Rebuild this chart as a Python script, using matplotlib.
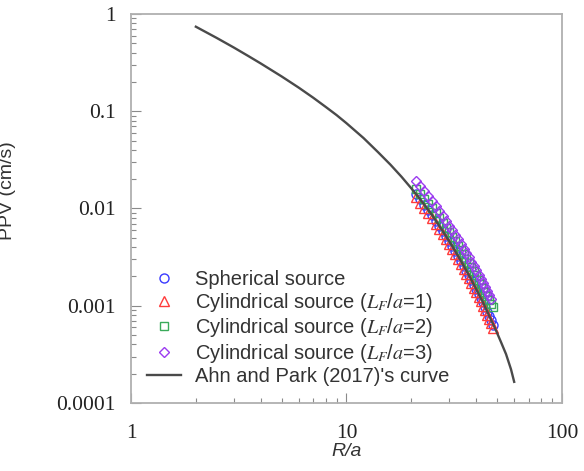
import numpy as np
import matplotlib
matplotlib.use("Agg")
import matplotlib.pyplot as plt
from matplotlib.ticker import LogLocator, NullFormatter, FixedLocator, FixedFormatter

plt.rcParams['mathtext.fontset'] = 'stix'

# Ahn and Park (2017)'s curve
curve_r = [2, 2.5, 3, 3.5, 4, 5, 6, 7, 8, 9, 10, 12, 14, 16, 18, 20, 22, 25,
           28, 31, 34, 37, 40, 43, 46, 49, 52, 55, 58, 60]
curve_ppv = [0.740, 0.567, 0.452, 0.370, 0.310, 0.228, 0.175, 0.138, 0.111,
             0.0912, 0.0753, 0.0530, 0.0380, 0.0282, 0.0212, 0.0161, 0.0124,
             0.00853, 0.00583, 0.00409, 0.00288, 0.00206, 0.00148, 0.00108,
             0.000783, 0.000581, 0.000428, 0.000318, 0.000222, 0.000165]

r_a = [21, 22, 23, 24, 25, 26, 27, 28, 29, 30, 31, 32, 33, 34, 35, 36, 37,
       38, 39, 40, 41, 42, 43, 44, 45, 46, 47, 48]

spherical = [0.0141, 0.0124, 0.0109, 0.00962, 0.00853, 0.00752, 0.00668,
             0.00583, 0.00516, 0.00459, 0.00409, 0.00363, 0.00323, 0.00288,
             0.00256, 0.00230, 0.00206, 0.00183, 0.00165, 0.00148, 0.00132,
             0.00119, 0.00108, 0.000966, 0.000871, 0.000783, 0.000708, 0.000640]
cyl_1 = [0.0131, 0.0115, 0.0101, 0.00895, 0.00793, 0.00699, 0.00621, 0.00542,
         0.00480, 0.00427, 0.00380, 0.00338, 0.00300, 0.00268, 0.00238,
         0.00214, 0.00192, 0.00170, 0.00153, 0.00138, 0.00123, 0.00111,
         0.00100, 0.000898, 0.000810, 0.000728, 0.000658, 0.000595]
cyl_2 = [0.0158, 0.0141, 0.0125, 0.0112, 0.0100, 0.00895, 0.00804, 0.00710,
         0.00636, 0.00572, 0.00515, 0.00462, 0.00416, 0.00375, 0.00337,
         0.00306, 0.00277, 0.00249, 0.00226, 0.00205, 0.00185, 0.00168,
         0.00154, 0.00139, 0.00127, 0.00115, 0.00105, 0.00096]
cyl_3 = [0.0190, 0.0169, 0.0150, 0.0133, 0.0119, 0.0106, 0.00948, 0.00834,
         0.00744, 0.00667, 0.00599, 0.00536, 0.00481, 0.00432, 0.00387,
         0.00350, 0.00316, 0.00283, 0.00257, 0.00232, 0.00209, 0.00189,
         0.00173, 0.00156, 0.00142, 0.00128, 0.00117]

x_ticks = [1, 10, 100]
x_tick_labels = ['1', '10', '100']
y_ticks = [0.0001, 0.001, 0.01, 0.1, 1]
y_tick_labels = ['0.0001', '0.001', '0.01', '0.1', '1']

fig = plt.figure(figsize=(5.84, 4.71), dpi=100)
ax = fig.add_axes([0.2243, 0.1444, 0.738, 0.8259])

ms = 6.5
ax.plot(r_a, spherical, 'o', mfc='none', mec='#3a3aff', mew=1.0, ms=ms,
        label='Spherical source')
ax.plot(r_a, cyl_1, '^', mfc='none', mec='#ff3b3b', mew=1.0, ms=ms,
        label=r'Cylindrical source ($L_F$/$a$=1)')
ax.plot(r_a, cyl_2, 's', mfc='none', mec='#3aaa5a', mew=1.0, ms=ms - 0.5,
        label=r'Cylindrical source ($L_F$/$a$=2)')
ax.plot(r_a[:len(cyl_3)], cyl_3, 'D', mfc='none', mec='#9b3bf0', mew=1.0, ms=ms - 1,
        label=r'Cylindrical source ($L_F$/$a$=3)')
ax.plot(curve_r, curve_ppv, '-', color='#4a4a4a', lw=1.7,
        label="Ahn and Park (2017)'s curve")

ax.set_xscale('log')
ax.set_yscale('log')
ax.set_xlim(1, 100)
ax.set_ylim(0.0001, 1)

ax.xaxis.set_major_locator(FixedLocator(x_ticks))
ax.xaxis.set_major_formatter(FixedFormatter(x_tick_labels))
ax.yaxis.set_major_locator(FixedLocator(y_ticks))
ax.yaxis.set_major_formatter(FixedFormatter(y_tick_labels))
ax.xaxis.set_minor_locator(LogLocator(base=10, subs=np.arange(2, 10)))
ax.yaxis.set_minor_locator(LogLocator(base=10, subs=np.arange(2, 10)))
ax.xaxis.set_minor_formatter(NullFormatter())
ax.yaxis.set_minor_formatter(NullFormatter())

for sp in ax.spines.values():
    sp.set_color('#b0b0b0')
    sp.set_linewidth(1.3)

ax.tick_params(which='both', direction='in', top=False, right=False,
               color='#8a8a8a', width=0.8)
ax.tick_params(which='major', length=7)
ax.tick_params(which='minor', length=3.5)
ax.tick_params(axis='x', pad=15)
ax.tick_params(axis='y', pad=11)
for lbl in ax.get_xticklabels() + ax.get_yticklabels():
    lbl.set_fontfamily('Liberation Serif')
    lbl.set_fontsize(15.5)
    lbl.set_color('#222222')

ax.set_xlabel('R/a', fontsize=14, style='italic', family='Liberation Sans',
              color='#333333', labelpad=0)
ax.set_ylabel('PPV (cm/s)', fontsize=14, family='Liberation Sans',
              color='#333333')
ax.yaxis.set_label_coords(-0.267, 0.545)

leg = ax.legend(loc='lower left', bbox_to_anchor=(0.005, 0.008), frameon=False,
                prop={'family': 'Liberation Sans', 'size': 14.5},
                handlelength=1.7, handletextpad=0.65, labelspacing=0.11,
                borderaxespad=0.3)
for t in leg.get_texts():
    t.set_color('#333333')

fig.savefig('out.png', dpi=100)
